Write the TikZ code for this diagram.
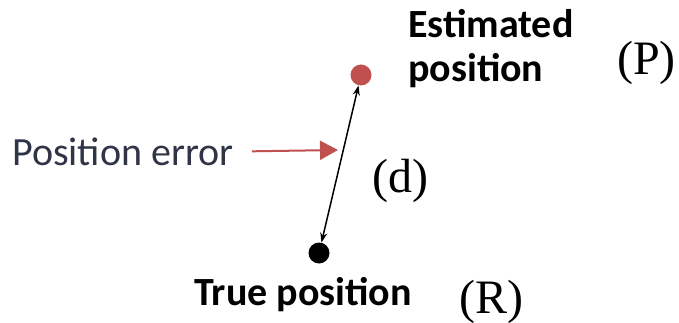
\documentclass[tikz,border=0pt]{standalone}
\usepackage{fontspec}
\setmainfont{Liberation Serif}
\newfontfamily\calib{Carlito}
\usetikzlibrary{arrows.meta}
\definecolor{dotred}{HTML}{C0504D}
\definecolor{errtext}{HTML}{2F3447}
\tikzset{
  lbl/.style={inner sep=0pt, anchor=base west, font=\calib\bfseries\fontsize{40}{44}\selectfont},
  sym/.style={inner sep=0pt, anchor=base west, font=\fontsize{48}{52}\selectfont},
  dotnode/.style={circle, inner sep=0pt, minimum size=21pt},
  distarrow/.style={{Stealth[length=10pt,width=7pt]}-{Stealth[length=10pt,width=7pt]}, line width=1.5pt},
  errarrow/.style={-{Triangle[length=18pt,width=19pt]}, line width=2pt, draw=dotred, fill=dotred}
}
\begin{document}
\begin{tikzpicture}[x=1pt,y=-1pt]
\useasboundingbox (0,0) rectangle (679,323);
\node[dotnode, fill=dotred] (est) at (361,75) {};
\node[dotnode, fill=black] (true) at (319,253) {};
\node[lbl] (estA) at (408,38) {Estimated};
\node[lbl] (estB) at (408,82) {position};
\node[lbl] (truelbl) at (194,305) {True position};
\node[sym] (P) at (617,75) {(P)};
\node[sym] (d) at (372,192) {(d)};
\node[sym] (R) at (459,313) {(R)};
\node[inner sep=0pt, anchor=base west, text=errtext, font=\calib\fontsize{40}{44}\selectfont] (perr) at (12,165) {Position error};
\coordinate (ptr) at (338,150);
\draw[distarrow] (true) -- (est);
\draw[errarrow] ([xshift=18pt]perr.east) -- (ptr);
\end{tikzpicture}
\end{document}
